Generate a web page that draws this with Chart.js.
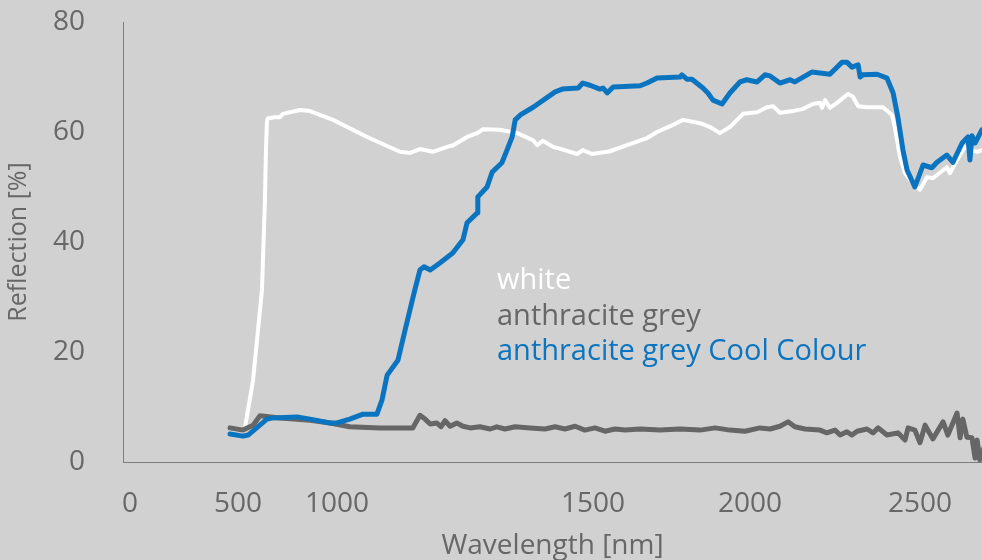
<!DOCTYPE html>
<html>
<head>
<meta charset="utf-8">
<script src="https://cdn.jsdelivr.net/npm/chart.js@4.4.1/dist/chart.umd.min.js"></script>
<style>
  html, body { margin: 0; padding: 0; background: #d1d1d1; }
  #wrap { width: 982px; height: 560px; }
</style>
</head>
<body>
<div id="wrap"><canvas id="chart-reflection"></canvas></div>
<script>
// wavelength tick labels on the x axis
const xTicks = [0, 500, 1000, 1500, 2000, 2500];

// white
const whiteNm = [535, 576, 601, 621, 636, 641, 646, 651, 687, 712, 727, 813, 864, 980, 1059, 1123, 1143, 1162, 1187, 1215, 1227, 1254, 1274, 1285, 1318, 1352, 1383, 1391, 1402, 1422, 1430, 1469, 1480, 1498, 1554, 1608, 1672, 1704, 1755, 1787, 1841, 1873, 1904, 1936, 1978, 2021, 2050, 2068, 2088, 2126, 2156, 2185, 2206, 2212, 2221, 2235, 2256, 2288, 2303, 2318, 2344, 2391, 2418, 2426, 2441, 2456, 2479, 2500, 2521, 2538, 2579, 2588, 2609, 2632, 2647, 2668, 2682, 2700];
const whiteVal = [6.2, 14.9, 24.0, 31.3, 47.6, 56.7, 61.8, 62.5, 62.7, 62.7, 63.3, 64.0, 63.8, 62.2, 59.1, 56.4, 56.2, 56.9, 56.4, 57.3, 57.6, 59.1, 59.8, 60.5, 60.4, 59.8, 58.5, 57.6, 58.4, 57.3, 57.1, 56.0, 56.7, 56.0, 56.5, 57.6, 58.9, 60.0, 61.3, 62.2, 61.6, 60.9, 59.8, 60.9, 63.3, 63.6, 64.5, 64.7, 63.5, 63.8, 64.2, 65.1, 65.3, 64.4, 65.8, 64.4, 65.3, 66.9, 66.4, 64.7, 64.5, 64.5, 63.1, 60.9, 55.5, 52.5, 50.7, 49.5, 51.8, 51.6, 53.6, 52.5, 54.9, 57.3, 56.7, 56.4, 56.7, 56.0];

// anthracite grey
const greyNm = [463, 525, 576, 611, 712, 864, 965, 1025, 1084, 1148, 1162, 1172, 1182, 1195, 1203, 1211, 1221, 1234, 1246, 1260, 1279, 1299, 1312, 1328, 1348, 1377, 1406, 1426, 1445, 1465, 1484, 1506, 1538, 1570, 1602, 1650, 1713, 1777, 1841, 1889, 1936, 1984, 2029, 2059, 2088, 2112, 2132, 2162, 2206, 2226, 2250, 2265, 2285, 2300, 2315, 2344, 2362, 2377, 2403, 2435, 2456, 2465, 2485, 2500, 2515, 2538, 2568, 2582, 2609, 2618, 2626, 2638, 2653, 2662, 2668, 2676, 2691];
const greyVal = [6.2, 5.8, 6.7, 8.4, 8.0, 7.6, 7.1, 6.4, 6.2, 6.2, 8.5, 7.8, 6.9, 7.1, 6.4, 7.5, 6.5, 7.1, 6.5, 6.2, 6.4, 6.0, 6.4, 6.0, 6.4, 6.2, 6.0, 6.4, 6.0, 6.5, 5.8, 6.2, 5.6, 6.0, 5.8, 6.0, 5.8, 6.0, 5.8, 6.2, 5.8, 5.6, 6.2, 6.0, 6.5, 7.3, 6.4, 6.0, 5.8, 5.3, 5.8, 4.9, 5.5, 4.9, 5.6, 6.0, 5.3, 6.2, 4.9, 5.3, 4.0, 6.2, 5.8, 3.5, 6.7, 4.2, 7.3, 4.9, 8.9, 4.4, 7.8, 4.5, 4.4, 0.7, 4.0, 0.4, 3.1];

// anthracite grey Cool Colour
const coolNm = [463, 525, 551, 646, 672, 798, 864, 965, 1000, 1025, 1051, 1078, 1088, 1098, 1119, 1133, 1152, 1162, 1170, 1182, 1201, 1226, 1246, 1254, 1274, 1275, 1293, 1303, 1322, 1332, 1342, 1348, 1358, 1383, 1426, 1440, 1471, 1480, 1494, 1522, 1532, 1545, 1564, 1650, 1672, 1704, 1777, 1783, 1799, 1815, 1850, 1866, 1882, 1911, 1936, 1968, 1990, 2021, 2044, 2059, 2088, 2118, 2132, 2182, 2235, 2271, 2285, 2300, 2318, 2324, 2332, 2374, 2403, 2421, 2435, 2450, 2462, 2485, 2509, 2535, 2550, 2579, 2597, 2624, 2641, 2647, 2653, 2662, 2682, 2700];
const coolVal = [5.1, 4.7, 4.9, 7.8, 8.0, 8.2, 7.8, 7.1, 7.1, 7.8, 8.7, 8.7, 11.3, 15.8, 18.5, 24.0, 31.3, 34.9, 35.5, 34.9, 36.2, 38.0, 40.4, 43.5, 45.3, 48.2, 50.0, 52.7, 54.4, 56.7, 59.1, 62.2, 63.1, 64.5, 67.3, 67.8, 68.0, 68.9, 68.5, 67.8, 68.0, 67.1, 68.2, 68.4, 68.9, 69.8, 70.0, 70.4, 69.6, 69.6, 68.0, 67.1, 65.8, 65.1, 67.1, 69.1, 69.5, 69.1, 70.4, 70.2, 68.9, 69.5, 69.1, 70.9, 70.5, 72.7, 72.7, 71.8, 72.2, 70.0, 70.4, 70.5, 69.8, 67.1, 62.7, 56.7, 53.1, 50.0, 54.0, 53.5, 54.5, 55.8, 54.5, 58.0, 59.1, 54.9, 59.3, 58.0, 60.4, 61.0];

const textGrey = "#676767";
const fontFamily = "'Open Sans', sans-serif";

function toPoints(xs, ys) {
  return xs.map((x, i) => ({ x: x, y: ys[i] }));
}

// x axis of the original is not linear: wavelength is stretched piecewise
class PiecewiseScale extends Chart.LinearScale {
  toDecimal(v) {
    const k = this.options.knots;
    let i = 0;
    while (i < k.length - 2 && v > k[i + 1][0]) i++;
    const a = k[i], b = k[i + 1];
    return a[1] + (v - a[0]) * (b[1] - a[1]) / (b[0] - a[0]);
  }
  fromDecimal(d) {
    const k = this.options.knots;
    let i = 0;
    while (i < k.length - 2 && d > k[i + 1][1]) i++;
    const a = k[i], b = k[i + 1];
    return a[0] + (d - a[1]) * (b[0] - a[0]) / (b[1] - a[1]);
  }
  getPixelForValue(value) {
    if (value === null || value === undefined) return NaN;
    return this.getPixelForDecimal(this.toDecimal(value));
  }
  getValueForPixel(pixel) {
    return this.fromDecimal(this.getDecimalForPixel(pixel));
  }
}
PiecewiseScale.id = "piecewise";
PiecewiseScale.defaults = Chart.LinearScale.defaults;
Chart.register(PiecewiseScale);

// series names written as plain coloured text inside the plot
const textLegend = {
  id: "textLegend",
  afterDatasetsDraw(chart) {
    const { ctx, chartArea } = chart;
    ctx.save();
    ctx.font = "29px " + fontFamily;
    ctx.textAlign = "left";
    ctx.textBaseline = "alphabetic";
    chart.data.datasets.forEach((ds, i) => {
      ctx.fillStyle = ds.borderColor;
      ctx.fillText(ds.label, chartArea.left + 374, chartArea.top + 267 + i * 35.5);
    });
    ctx.restore();
  },
};

const chartData = {
  datasets: [
    {
      label: "white",
      data: toPoints(whiteNm, whiteVal),
      borderColor: "#ffffff",
      borderWidth: 4,
      order: 2,
    },
    {
      label: "anthracite grey",
      data: toPoints(greyNm, greyVal),
      borderColor: "#666666",
      borderWidth: 5,
      order: 1,
    },
    {
      label: "anthracite grey Cool Colour",
      data: toPoints(coolNm, coolVal),
      borderColor: "#0a74c0",
      borderWidth: 5,
      order: 0,
    },
  ],
};

const axisFont = { family: fontFamily, size: 28 };

const config = {
  type: "line",
  data: chartData,
  options: {
    responsive: true,
    maintainAspectRatio: false,
    animation: false,
    layout: { padding: { top: 22, right: 0, bottom: 0, left: 0 } },
    elements: {
      point: { radius: 0 },
      line: { tension: 0, borderJoinStyle: "round", borderCapStyle: "round" },
    },
    plugins: {
      legend: { display: false },
      tooltip: { enabled: false },
    },
    scales: {
      x: {
        type: "piecewise",
        min: -32,
        max: 2682,
        knots: [[0, 0.0081], [500, 0.1339], [1000, 0.2491], [1500, 0.5472], [2000, 0.7299], [2500, 0.9278]],
        afterBuildTicks: (scale) => {
          scale.ticks = xTicks.map((v) => ({ value: v }));
        },
        afterFit: (scale) => {
          scale.height = 98;
          scale.paddingLeft = 0;
          scale.paddingRight = 0;
        },
        grid: { display: false, drawTicks: false },
        border: { display: true, color: "#7c7c7c", width: 1 },
        ticks: {
          color: textGrey,
          font: axisFont,
          padding: 25,
          autoSkip: false,
          maxRotation: 0,
          callback: (v) => v,
        },
        title: {
          display: true,
          text: "Wavelength [nm]",
          color: textGrey,
          font: { family: fontFamily, size: 28, lineHeight: 1 },
          padding: { top: 0, bottom: 0 },
        },
      },
      y: {
        min: 0,
        max: 80,
        afterFit: (scale) => {
          scale.width = 123;
          scale.paddingTop = 0;
          scale.paddingBottom = 0;
        },
        grid: { display: false, drawTicks: false },
        border: { display: true, color: "#7c7c7c", width: 1 },
        ticks: {
          stepSize: 20,
          color: textGrey,
          font: axisFont,
          padding: 38,
        },
        title: {
          display: true,
          text: "Reflection [%]",
          color: textGrey,
          font: { family: fontFamily, size: 25, lineHeight: 1 },
          padding: { top: 6, bottom: 0 },
        },
      },
    },
  },
  plugins: [textLegend],
};

const ctx = document.getElementById("chart-reflection");
let chart = new Chart(ctx, config);
</script>
</body>
</html>
